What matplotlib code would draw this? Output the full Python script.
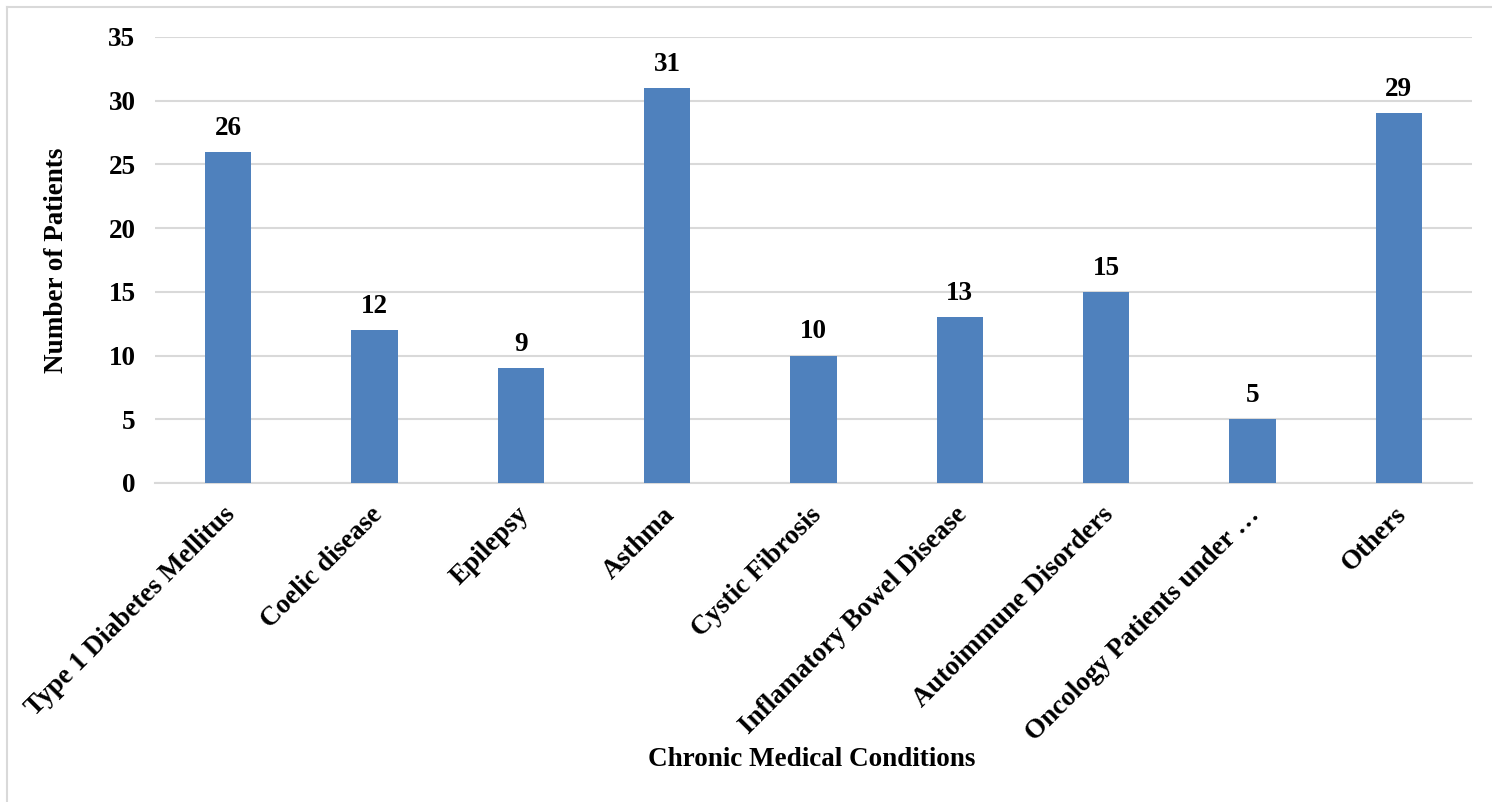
import matplotlib
matplotlib.use("Agg")
import matplotlib.pyplot as plt
from matplotlib.lines import Line2D
from matplotlib.transforms import ScaledTranslation

conditions = [
    "Type 1 Diabetes Mellitus",
    "Coelic disease",
    "Epilepsy",
    "Asthma",
    "Cystic Fibrosis",
    "Inflamatory Bowel Disease",
    "Autoimmune Disorders",
    "Oncology Patients under \u2026",
    "Others",
]
patients = [26, 12, 9, 31, 10, 13, 15, 5, 29]
y_ticks = [0, 5, 10, 15, 20, 25, 30, 35]

plt.rcParams["font.family"] = ["Liberation Serif", "DejaVu Serif"]
plt.rcParams["font.weight"] = "bold"

W, H = 1492, 802
fig = plt.figure(figsize=(W / 100, H / 100), dpi=100)
ax = fig.add_axes([155 / W, 1 - 483 / H, (1472 - 155) / W, (483 - 37) / H])

bar_color = "#4F81BD"
x = list(range(len(conditions)))
ax.bar(x, patients, width=0.315, color=bar_color, zorder=3)

for xi, v in zip(x, patients):
    ax.annotate(str(v), (xi, v), xytext=(0, 8), textcoords="offset points",
                ha="center", va="bottom", fontsize=19.5, fontweight="bold")

ax.set_xlim(-0.5, len(conditions) - 0.5)
ax.set_ylim(0, 35)
ax.set_yticks(y_ticks)
ax.set_yticklabels([str(t) for t in y_ticks], fontsize=19.5, fontweight="bold")
ax.yaxis.grid(True, color="#D9D9D9", linewidth=1.5, zorder=0)
ax.set_axisbelow(True)
ax.tick_params(axis="both", length=0)
ax.tick_params(axis="y", pad=14)
ax.set_xticks(x)
ax.set_xticklabels(conditions, rotation=45, ha="right", rotation_mode="anchor",
                   fontsize=19.5, fontweight="bold")
ax.tick_params(axis="x", pad=14)
shift = ScaledTranslation(-5 / 100, 0, fig.dpi_scale_trans)
for lbl in ax.get_xticklabels():
    lbl.set_transform(lbl.get_transform() + shift)
for side in ["top", "right", "left"]:
    ax.spines[side].set_visible(False)
ax.spines["bottom"].set_color("#D9D9D9")
ax.spines["bottom"].set_linewidth(1.5)

fig.text(57 / W, 1 - 260 / H, "Number of Patients", rotation=90, ha="center", va="center",
         fontsize=19.5, fontweight="bold")
fig.text(812 / W, 1 - 760 / H, "Chronic Medical Conditions", ha="center", va="center",
         fontsize=19.5, fontweight="bold")

# outer frame along the top and left edges
fig.add_artist(Line2D([7 / W, 1.0], [1 - 7 / H, 1 - 7 / H], transform=fig.transFigure,
                      color="#D9D9D9", linewidth=1.5))
fig.add_artist(Line2D([7 / W, 7 / W], [1 - 7 / H, 0.0], transform=fig.transFigure,
                      color="#D9D9D9", linewidth=1.5))

fig.savefig("out.png", dpi=100, facecolor="white")
